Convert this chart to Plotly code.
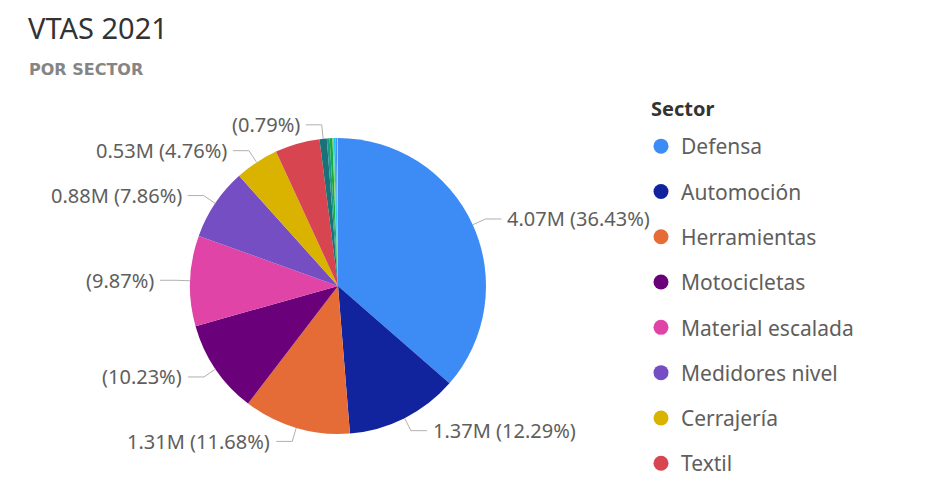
import math
import plotly.graph_objects as go

# datos (ventas en millones)
sectores = ['Defensa', 'Automoción', 'Herramientas', 'Motocicletas',
            'Material escalada', 'Medidores nivel', 'Cerrajería', 'Textil',
            'Náutica', 'Iluminación', 'Electrónica', 'Jardinería',
            'Fontanería', 'Papelería', 'Otros']
ventas = [4.070, 1.373, 1.3052, 1.143, 1.103, 0.878, 0.532, 0.546,
          0.088, 0.034, 0.034, 0.017, 0.022, 0.017, 0.011]
colores = ['#3D8BF5', '#12239E', '#E66C37', '#6B007B', '#E044A7',
           '#744EC2', '#D9B300', '#D64550', '#197278', '#1F9A8A',
           '#1AAB40', '#7FD36B', '#15C6F4', '#4092FF', '#FFA0A0']
# que etiqueta lleva cada sector: 'full' = valor y %, 'pct' = solo %
etiquetas = ['full', 'full', 'full', 'pct', 'pct', 'full', 'full', None,
             'pct', None, None, None, None, None, None]
sectores_leyenda = sectores[:8]

W, H = 930, 502
OFF = 8  # margen del body de la pagina
CX, CY, R = 338, 286, 148
LABEL_FONT = dict(family='Noto Sans', size=20, color='#605E5C')


def px(x):
    return (x - OFF) / W


def py(y):
    return 1 - (y - OFF) / H


total = sum(ventas)
fig = go.Figure()
fig.add_trace(go.Pie(
    labels=sectores, values=ventas, sort=False, direction='clockwise',
    rotation=0, marker=dict(colors=colores, line=dict(width=0)),
    textinfo='none', hoverinfo='label+value+percent', showlegend=False,
    domain=dict(x=[px(CX - R), px(CX + R)], y=[py(CY + R), py(CY - R)])))

# leyenda con trazas vacias
for i, nombre in enumerate(sectores_leyenda):
    fig.add_trace(go.Scatter(
        x=[None], y=[None], mode='markers', name=nombre,
        legendgroup=nombre,
        marker=dict(color=colores[i], size=15, symbol='circle')))

# etiquetas con lineas guia
izq, der = [], []
acum = 0
for nombre, v, tipo in zip(sectores, ventas, etiquetas):
    frac = v / total
    mid = (acum + frac / 2) * 2 * math.pi
    acum += frac
    if tipo is None:
        continue
    s, c = math.sin(mid), -math.cos(mid)
    ax, ay = CX + R * s, CY + R * c
    ex, ey = CX + (R + 14) * s, CY + (R + 14) * c
    if tipo == 'full':
        txt = '{:.2f}M ({:.2%})'.format(v, frac)
    else:
        txt = '({:.2%})'.format(frac)
    item = dict(ax=ax, ay=ay, ex=ex, ey=ey, txt=txt)
    (der if s >= 0 else izq).append(item)

for lado, signo in ((izq, -1), (der, 1)):
    lado.sort(key=lambda d: d['ey'])
    for k in range(1, len(lado)):
        if lado[k]['ey'] - lado[k - 1]['ey'] < 22:
            lado[k]['ey'] = lado[k - 1]['ey'] + 22
    for d in lado:
        hx = d['ex'] + signo * 16
        fig.add_shape(type='path', xref='paper', yref='paper',
                      path='M {} {} L {} {} L {} {}'.format(
                          px(d['ax']), py(d['ay']), px(d['ex']), py(d['ey']),
                          px(hx), py(d['ey'])),
                      line=dict(color='#B3B0AD', width=1))
        fig.add_annotation(x=px(hx + signo * 4), y=py(d['ey']),
                           xref='paper', yref='paper', text=d['txt'],
                           showarrow=False, font=LABEL_FONT,
                           xanchor='left' if signo > 0 else 'right',
                           yanchor='middle')

# titulos
fig.add_annotation(x=px(26), y=py(28), xref='paper', yref='paper',
                   text='VTAS 2021', showarrow=False, xanchor='left',
                   yanchor='middle',
                   font=dict(family='Noto Sans', size=29, color='#333333'))
fig.add_annotation(x=px(27), y=py(69), xref='paper', yref='paper',
                   text='POR SECTOR', showarrow=False, xanchor='left',
                   yanchor='middle',
                   font=dict(family='DejaVu Sans', size=16, color='#858585',
                             weight='bold'))
fig.add_annotation(x=px(649), y=py(108), xref='paper', yref='paper',
                   text='<b>Sector</b>', showarrow=False, xanchor='left',
                   yanchor='middle',
                   font=dict(family='Noto Sans', size=20, color='#333333'))

fig.update_layout(
    width=W, height=H,
    margin=dict(l=0, r=0, t=0, b=0),
    paper_bgcolor='white', plot_bgcolor='white',
    xaxis=dict(visible=False), yaxis=dict(visible=False),
    legend=dict(
        x=px(641), y=py(126), xanchor='left', yanchor='top',
        font=dict(family='Noto Sans', size=21, color='#605E5C'),
        itemwidth=30,
        tracegroupgap=15, itemsizing='trace', bgcolor='rgba(0,0,0,0)'))

fig.write_html("out.html")
